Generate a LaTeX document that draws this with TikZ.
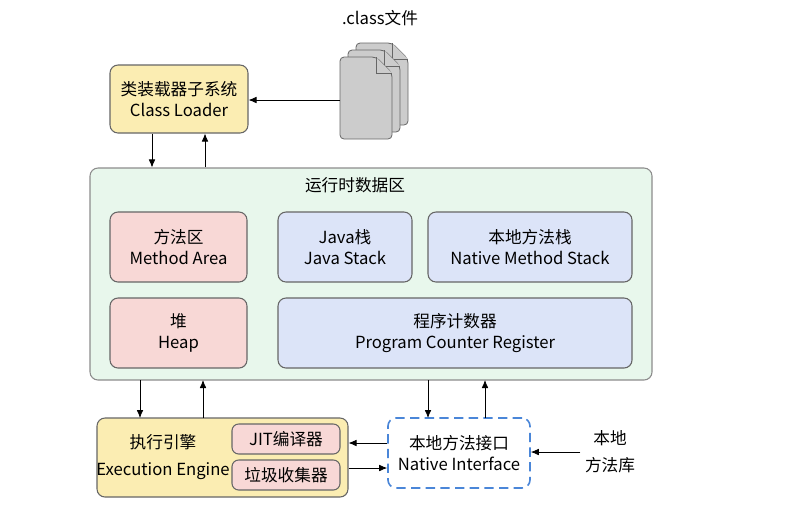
\documentclass[tikz,border=0pt]{standalone}
\usepackage{fontspec}
\setmainfont{Noto Sans CJK SC}
\usetikzlibrary{arrows.meta}
\definecolor{loaderyellow}{HTML}{FBEDB2}
\definecolor{areagreen}{HTML}{E8F7EC}
\definecolor{areapink}{HTML}{F8D8D6}
\definecolor{areablue}{HTML}{DCE4F8}
\definecolor{dashblue}{HTML}{4A86D8}
\tikzset{
  box/.style={draw=black!60, rounded corners=6pt, line width=0.8pt, align=center,
    font=\fontsize{12.5}{16}\selectfont},
  link/.style={-{Latex[length=6pt,width=5pt]}, line width=0.6pt},
  page/.style={draw=black!60, fill=black!20, line width=0.6pt},
}
% one sheet of the .class stack, upper left corner at #1,#2
\newcommand{\classpage}[2]{
  \draw[page, rounded corners=3pt] (#1,#2) -- (#1,#2+82) -- (#1+52,#2+82)
    -- (#1+52,#2+16) -- (#1+36,#2) -- cycle;
  \draw[page] (#1+36,#2) -- (#1+36,#2+16) -- (#1+52,#2+16);
}
\begin{document}
\begin{tikzpicture}[x=0.75pt, y=-0.75pt]
  \useasboundingbox (0,0) rectangle (799,526);

  % class files
  \node (ftitle) at (380,18) {\fontsize{12.5}{15}\selectfont .class文件};
  \classpage{356}{43}
  \classpage{348}{50}
  \classpage{340}{57}
  \coordinate (files) at (340,100);

  % class loader
  \node[box, fill=loaderyellow, minimum width=138*0.75pt, minimum height=68*0.75pt]
    (loader) at (179,99) {类装载器子系统\\Class Loader};
  \draw[link] (files) -- (loader.east |- files);

  % runtime data area
  \node[box, fill=areagreen, draw=black!45, minimum width=562*0.75pt, minimum height=212*0.75pt]
    (runtime) at (371,274) {};
  \node (rtitle) at (355,185) {\fontsize{12.5}{15}\selectfont 运行时数据区};
  \node[box, fill=areapink, minimum width=137*0.75pt, minimum height=70*0.75pt]
    (method) at (178.5,247) {方法区\\Method Area};
  \node[box, fill=areablue, minimum width=134*0.75pt, minimum height=70*0.75pt]
    (jstack) at (345,247) {Java栈\\Java Stack};
  \node[box, fill=areablue, minimum width=204*0.75pt, minimum height=70*0.75pt]
    (nstack) at (530,247) {本地方法栈\\Native Method Stack};
  \node[box, fill=areapink, minimum width=137*0.75pt, minimum height=70*0.75pt]
    (heap) at (178.5,333) {堆\\Heap};
  \node[box, fill=areablue, minimum width=354*0.75pt, minimum height=70*0.75pt]
    (pcreg) at (455,333) {程序计数器\\Program Counter Register};

  \draw[link] ([xshift=-27*0.75pt]loader.south) -- ([xshift=-27*0.75pt]loader.south |- runtime.north);
  \draw[link] ([xshift=26*0.75pt]loader.south |- runtime.north) -- ([xshift=26*0.75pt]loader.south);

  % execution engine
  \node[box, fill=loaderyellow, minimum width=251*0.75pt, minimum height=79*0.75pt]
    (engine) at (222.5,457.5) {};
  \node[align=center, font=\fontsize{12.5}{20}\selectfont] (etext) at (163,457) {执行引擎\\Execution Engine};
  \node[box, fill=areapink, rounded corners=5pt, minimum width=108*0.75pt, minimum height=30*0.75pt]
    (jit) at (286,439) {JIT编译器};
  \node[box, fill=areapink, rounded corners=5pt, minimum width=108*0.75pt, minimum height=30*0.75pt]
    (gc) at (286,475) {垃圾收集器};

  % native interface
  \node[box, draw=dashblue, dashed, dash pattern=on 7pt off 4pt, line width=1.2pt,
    minimum width=142*0.75pt, minimum height=70*0.75pt] (native) at (459,453)
    {本地方法接口\\Native Interface};
  \node[align=center, font=\fontsize{12.5}{20}\selectfont] (nlib) at (610,452) {本地\\方法库};

  \draw[link] (140,380) -- (140,418);
  \draw[link] (203,418) -- (203,380);
  \draw[link] (428,380) -- (428,418);
  \draw[link] (485,418) -- (485,380);
  \draw[link] (native.west |- 0,443) -- (engine.east |- 0,443);
  \draw[link] (engine.east |- 0,468) -- (native.west |- 0,468);
  \draw[link] (nlib.west) -- (native.east |- nlib.west);
\end{tikzpicture}
\end{document}
